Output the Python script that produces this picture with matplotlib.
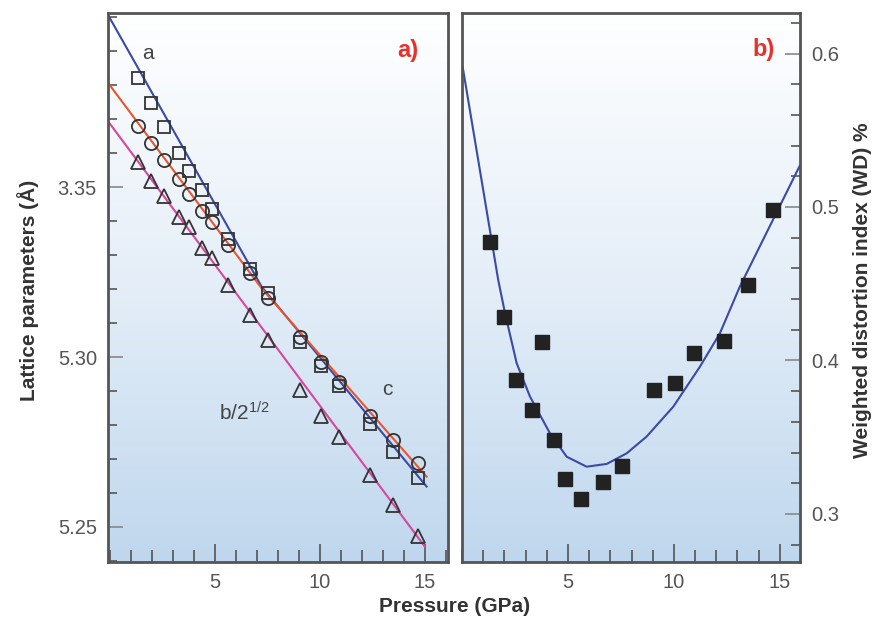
import numpy as np
import matplotlib.pyplot as plt
from matplotlib.colors import LinearSegmentedColormap
from matplotlib.ticker import MultipleLocator, FixedLocator

plt.rcParams['font.family'] = ['Liberation Sans', 'DejaVu Sans']
plt.rcParams['mathtext.fontset'] = 'custom'
plt.rcParams['mathtext.rm'] = 'Liberation Sans'

# Pressure points (GPa), shared by both panels
pressure = [1.33, 1.97, 2.55, 3.30, 3.76, 4.36, 4.84, 5.60, 6.65, 7.54,
            9.07, 10.06, 10.93, 12.36, 13.50, 14.69]

# Lattice parameters (A)
a_par = [5.3820, 5.3746, 5.3677, 5.3599, 5.3547, 5.3491, 5.3435, 5.3346,
         5.3258, 5.3189, 5.3045, 5.2974, 5.2915, 5.2803, 5.2721, 5.2643]
c_par = [5.3679, 5.3629, 5.3579, 5.3523, 5.3481, 5.3430, 5.3398, 5.3329,
         5.3246, 5.3173, 5.3060, 5.2986, 5.2927, 5.2826, 5.2756, 5.2687]
b_par = [5.3574, 5.3518, 5.3474, 5.3413, 5.3383, 5.3320, 5.3290, 5.3212,
         5.3124, 5.3050, 5.2903, 5.2826, 5.2764, 5.2653, 5.2565, 5.2474]

# fitted lines (vertices)
a_fit_x = [-0.05, 7.22, 15.08]
a_fit_y = [5.4001, 5.3207, 5.2619]
c_fit_x = [-0.08, 7.22, 15.08]
c_fit_y = [5.3805, 5.3202, 5.2648]
b_fit_x = [-0.08, 15.0]
b_fit_y = [5.3692, 5.2442]

# Weighted distortion index (%)
wd = [0.477, 0.4285, 0.387, 0.368, 0.412, 0.348, 0.323, 0.310,
      0.321, 0.331, 0.381, 0.3855, 0.405, 0.413, 0.449, 0.498]

# fitted WD curve
wd_fit_x = [0.03, 1.71, 2.03, 2.58, 3.21, 4.15, 4.94, 5.88, 6.83, 7.77,
            8.71, 9.97, 11.23, 12.17, 13.11, 15.94]
wd_fit_y = [0.5914, 0.4524, 0.4308, 0.3982, 0.3764, 0.3526, 0.3373, 0.3308,
            0.3326, 0.3395, 0.3504, 0.3699, 0.3960, 0.4177, 0.4481, 0.5269]

blue = '#3a4aa6'
red = '#e8552e'
magenta = '#d6479e'
frame = '#555555'
txt = '#555555'

my_dpi = 100
fig = plt.figure(figsize=(883/my_dpi, 621/my_dpi), dpi=my_dpi)
ax1 = fig.add_axes([108/883, 1-562/621, 340/883, 549/621])
ax2 = fig.add_axes([462/883, 1-562/621, 338/883, 549/621])

# white at the top fading to light blue at the bottom
bg = LinearSegmentedColormap.from_list('bg', ['#ffffff', '#e4eef8', '#bfd7ee'])
grad = np.linspace(0, 1, 256).reshape(-1, 1)

for ax in (ax1, ax2):
    ax.imshow(grad, cmap=bg, aspect='auto', extent=[0, 1, 0, 1],
              transform=ax.transAxes, zorder=0)
    for s in ax.spines.values():
        s.set_color(frame)
        s.set_linewidth(2)
    ax.xaxis.set_major_locator(FixedLocator([5, 10, 15]))
    ax.xaxis.set_minor_locator(MultipleLocator(1))
    ax.tick_params(axis='x', which='major', direction='in', length=13, width=1.2,
                   color=frame, labelsize=14.5, labelcolor=txt, pad=8)
    ax.tick_params(axis='x', which='minor', direction='in', length=8.5, width=1.2,
                   color=frame)
    ax.tick_params(axis='y', which='major', direction='in', length=11, width=1.2,
                   color='#888888', labelsize=14.5, labelcolor=txt, pad=8)
    ax.tick_params(axis='y', which='minor', direction='in', length=6.5, width=1.2,
                   color=frame)

# panel a
ax1.plot(a_fit_x, a_fit_y, color=blue, lw=1.5, zorder=2)
ax1.plot(c_fit_x, c_fit_y, color=red, lw=1.5, zorder=2)
ax1.plot(b_fit_x, b_fit_y, color=magenta, lw=1.5, zorder=2)
ax1.plot(pressure, a_par, 's', ms=9, mfc='none', mec='#333333', mew=1.3, zorder=3)
ax1.plot(pressure, c_par, 'o', ms=9.5, mfc='none', mec='#333333', mew=1.3, zorder=3)
ax1.plot(pressure, b_par, '^', ms=10, mfc='none', mec='#333333', mew=1.3, zorder=3)
ax1.set_xlim(-0.1, 16.1)
ax1.set_ylim(5.2397, 5.4012)
ax1.yaxis.set_major_locator(FixedLocator([5.25, 5.30, 5.35]))
ax1.set_yticklabels(['5.25', '5.30', '3.35'])
ax1.yaxis.set_minor_locator(MultipleLocator(0.01))
ax1.text(1.79, 5.3893, 'a', fontsize=15, color='#444444', ha='center', va='center')
ax1.text(13.2, 5.2903, 'c', fontsize=15, color='#444444', ha='center', va='center')
ax1.text(5.2, 5.2835, r'$\mathregular{b/2^{1/2}}$', fontsize=15, color='#444444',
         ha='left', va='center')
ax1.text(0.882, 0.931, 'a)', transform=ax1.transAxes, fontsize=17, fontweight='bold',
         color='#e8312a', ha='center', va='center')

# panel b
ax2.plot(wd_fit_x, wd_fit_y, color=blue, lw=1.5, zorder=2)
ax2.plot(pressure, wd, 's', ms=9.5, color='#222222', zorder=3)
ax2.set_xlim(0, 15.95)
ax2.set_ylim(0.2687, 0.6264)
ax2.yaxis.set_major_locator(FixedLocator([0.3, 0.4, 0.5, 0.6]))
ax2.set_yticklabels(['0.3', '0.4', '0.5', '0.6'])
ax2.yaxis.set_minor_locator(MultipleLocator(0.02))
ax2.yaxis.tick_right()
ax2.yaxis.set_label_position('right')
ax2.tick_params(axis='y', which='both', left=False, right=True)
ax2.text(0.891, 0.934, 'b)', transform=ax2.transAxes, fontsize=17, fontweight='bold',
         color='#e8312a', ha='center', va='center')

fig.text(455/883, 1-607/621, 'Pressure (GPa)', fontsize=15, fontweight='bold',
         color='#333333', ha='center', va='center')
fig.text(28/883, 1-290/621, 'Lattice parameters (Å)', fontsize=15, fontweight='bold',
         color='#333333', ha='center', va='center', rotation=90)
fig.text(862/883, 1-290/621, 'Weighted distortion index (WD) %', fontsize=15,
         fontweight='bold', color='#333333', ha='center', va='center', rotation=90)

plt.savefig('out.png', dpi=my_dpi)
